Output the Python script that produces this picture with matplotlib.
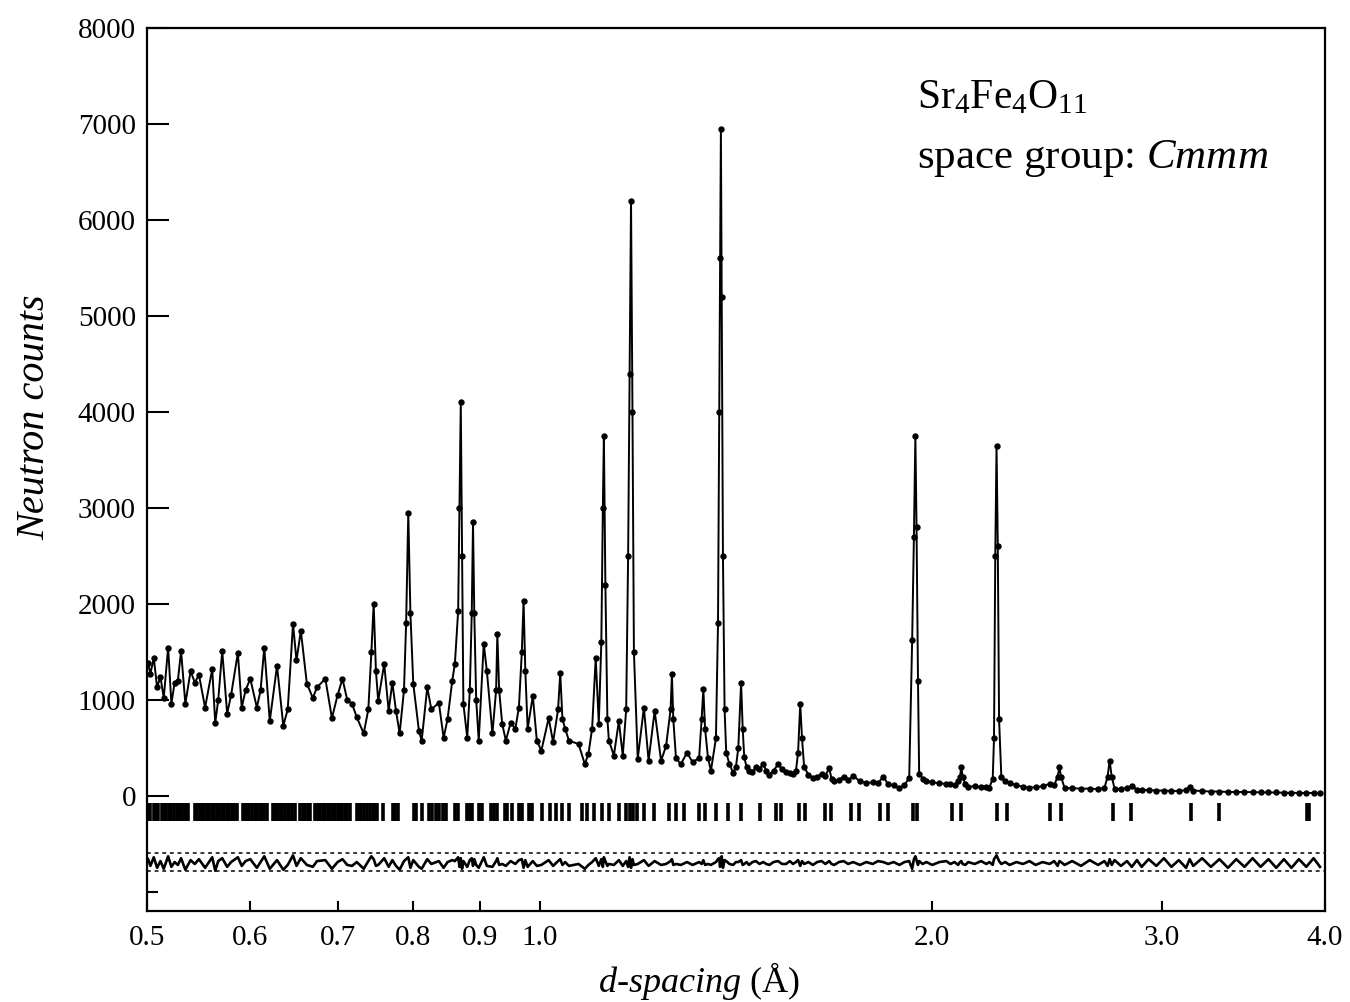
import numpy as np
import matplotlib
matplotlib.use('Agg')
import matplotlib.pyplot as plt
from matplotlib.ticker import FixedLocator, FixedFormatter, NullLocator

d_obs = [
    0.501, 0.503, 0.506, 0.509, 0.512, 0.515, 0.519, 0.522, 0.525, 0.528,
    0.531, 0.535, 0.540, 0.544, 0.548, 0.554, 0.561, 0.564, 0.567, 0.571,
    0.576, 0.580, 0.587, 0.591, 0.595, 0.600, 0.607, 0.611, 0.615, 0.621,
    0.629, 0.636, 0.641, 0.647, 0.651, 0.656, 0.663, 0.670, 0.675, 0.685,
    0.693, 0.700, 0.706, 0.712, 0.718, 0.724, 0.733, 0.739, 0.743, 0.746,
    0.749, 0.752, 0.760, 0.766, 0.771, 0.776, 0.781, 0.787, 0.790, 0.793,
    0.796, 0.800, 0.808, 0.812, 0.820, 0.826, 0.837, 0.844, 0.850, 0.857,
    0.861, 0.866, 0.868, 0.870, 0.872, 0.874, 0.880, 0.884, 0.887, 0.889,
    0.891, 0.894, 0.898, 0.906, 0.911, 0.920, 0.926, 0.928, 0.931, 0.936,
    0.942, 0.950, 0.958, 0.964, 0.969, 0.972, 0.975, 0.979, 0.988, 0.995,
    1.003, 1.016, 1.024, 1.033, 1.037, 1.041, 1.046, 1.053, 1.071, 1.083,
    1.090, 1.097, 1.104, 1.110, 1.115, 1.118, 1.120, 1.123, 1.127, 1.130,
    1.140, 1.150, 1.158, 1.165, 1.169, 1.172, 1.175, 1.178, 1.181, 1.189,
    1.202, 1.212, 1.225, 1.239, 1.250, 1.260, 1.263, 1.266, 1.272, 1.283,
    1.297, 1.310, 1.325, 1.331, 1.335, 1.339, 1.346, 1.353, 1.365, 1.370,
    1.373, 1.375, 1.377, 1.379, 1.382, 1.386, 1.390, 1.398, 1.407, 1.414,
    1.420, 1.427, 1.431, 1.435, 1.441, 1.447, 1.456, 1.465, 1.474, 1.484,
    1.492, 1.500, 1.511, 1.523, 1.534, 1.545, 1.555, 1.564, 1.572, 1.578,
    1.584, 1.589, 1.595, 1.607, 1.620, 1.632, 1.645, 1.656, 1.667, 1.674,
    1.682, 1.696, 1.710, 1.724, 1.739, 1.760, 1.780, 1.800, 1.817, 1.834,
    1.850, 1.868, 1.887, 1.904, 1.920, 1.930, 1.936, 1.941, 1.945, 1.950,
    1.954, 1.966, 1.979, 2.000, 2.025, 2.050, 2.065, 2.080, 2.093, 2.100,
    2.105, 2.110, 2.120, 2.131, 2.155, 2.180, 2.200, 2.212, 2.225, 2.230,
    2.235, 2.240, 2.245, 2.250, 2.259, 2.275, 2.292, 2.320, 2.347, 2.374,
    2.400, 2.430, 2.460, 2.480, 2.495, 2.503, 2.510, 2.526, 2.560, 2.600,
    2.640, 2.680, 2.710, 2.725, 2.735, 2.745, 2.759, 2.790, 2.820, 2.844,
    2.870, 2.894, 2.930, 2.970, 3.010, 3.050, 3.090, 3.130, 3.150, 3.170,
    3.220, 3.270, 3.320, 3.370, 3.420, 3.470, 3.520, 3.570, 3.620, 3.670,
    3.720, 3.770, 3.820, 3.870, 3.920, 3.965,
]
counts = [
    1380, 1270, 1440, 1130, 1240, 1020, 1545, 960, 1180, 1200,
    1510, 960, 1300, 1180, 1260, 920, 1320, 760, 1000, 1510,
    855, 1050, 1490, 920, 1100, 1220, 920, 1100, 1545, 780,
    1355, 730, 900, 1790, 1410, 1720, 1170, 1020, 1130, 1220,
    810, 1050, 1220, 1000, 960, 820, 650, 900, 1500, 2000,
    1300, 990, 1375, 885, 1180, 885, 650, 1100, 1800, 2950,
    1900, 1170, 680, 575, 1130, 900, 970, 605, 800, 1200,
    1375, 1930, 3000, 4100, 2500, 960, 605, 1100, 1900, 2850,
    1900, 1000, 575, 1585, 1300, 650, 1100, 1690, 1100, 750,
    575, 760, 700, 920, 1500, 2034, 1300, 700, 1040, 575,
    470, 810, 560, 900, 1280, 800, 700, 575, 540, 330,
    440, 700, 1440, 750, 1600, 3000, 3750, 2200, 800, 575,
    420, 780, 420, 900, 2500, 4400, 6200, 4000, 1500, 385,
    920, 365, 885, 365, 520, 900, 1270, 800, 395, 330,
    450, 350, 395, 800, 1116, 700, 395, 260, 600, 1800,
    4000, 5600, 6950, 5200, 2500, 900, 450, 330, 240, 300,
    500, 1180, 700, 400, 300, 260, 250, 300, 280, 330,
    260, 220, 260, 330, 280, 250, 240, 230, 260, 450,
    960, 600, 300, 220, 190, 200, 230, 210, 290, 180,
    150, 170, 200, 160, 210, 150, 135, 140, 130, 200,
    120, 110, 85, 110, 190, 1620, 2700, 3750, 2800, 1200,
    230, 180, 155, 140, 130, 125, 120, 110, 150, 200,
    300, 200, 120, 95, 100, 90, 95, 85, 180, 600,
    2500, 3650, 2600, 800, 200, 150, 135, 110, 95, 85,
    90, 100, 125, 110, 200, 300, 200, 80, 80, 75,
    75, 70, 80, 200, 365, 200, 75, 70, 80, 105,
    65, 60, 60, 55, 55, 50, 50, 60, 95, 55,
    50, 45, 45, 40, 40, 40, 38, 35, 35, 35,
    32, 32, 30, 30, 30, 30,
]
# observed minus calculated, same points
resid = [
    40, -30, 60, -50, 20, -60, 70, -40, 10, -20,
    50, -70, 30, -10, 40, -50, 60, -80, 20, 50,
    -40, 10, 60, -30, 20, 40, -50, 10, 70, -60,
    30, -70, -20, 80, -30, 50, -20, -40, 20, 30,
    -60, 10, 40, -20, -30, 10, -60, 20, 70, 40,
    -30, -20, 50, -40, 30, -30, -70, 20, 40, 60,
    -50, 30, -40, -60, 40, -10, 20, -50, 10, 30,
    20, 60, -40, 50, -60, 20, -40, 30, 50, -30,
    40, -20, -50, 60, -30, -40, 20, 50, -20, -10,
    -30, 20, -10, 30, 40, -50, 30, -40, 20, -30,
    -20, 30, -30, 20, 40, -20, 10, -30, -10, -60,
    -20, 10, 50, -30, 40, -40, 60, 20, -30, -10,
    -20, 30, -30, 20, -40, 60, -50, 40, -20, -10,
    30, -30, 20, -20, -10, 20, 40, -20, -10, -20,
    10, -20, 10, -10, 30, -20, -10, -20, 10, 40,
    50, -40, 60, 70, -50, 30, 20, -10, -20, 10,
    10, 30, -20, -10, 10, -20, 10, 20, -10, 10,
    -10, -20, 10, 20, -10, -10, 20, -10, 10, 30,
    -30, 20, -10, 10, -20, 10, 20, -10, 20, -10,
    -20, 10, 20, -10, 10, -20, 10, -10, 20, 10,
    -10, 10, -20, 10, 20, -60, 40, 70, 30, -20,
    20, -10, 10, -20, 10, 20, -10, 10, -20, 10,
    20, -10, -20, 10, -10, 20, -10, 10, -20, 40,
    60, 80, 50, 20, -10, 10, -20, 10, -10, 20,
    -20, 10, -10, 20, -30, 20, 10, -20, 20, -30,
    30, -20, 20, -30, 40, -20, 30, -30, 20, -40,
    30, -40, 40, -30, 50, -40, 30, -50, 40, -30,
    50, -40, 40, -50, 40, -40, 50, -40, 40, -50,
    40, -50, 40, -40, 50, -40,
]

# reflection positions (tick marks)
refl_d = [
    0.501, 0.503, 0.506, 0.508, 0.510, 0.513, 0.515, 0.517, 0.520, 0.522,
    0.524, 0.527, 0.529, 0.531, 0.534, 0.536, 0.538, 0.544, 0.546, 0.549,
    0.551, 0.553, 0.556, 0.558, 0.561, 0.563, 0.566, 0.568, 0.571, 0.573,
    0.576, 0.578, 0.581, 0.583, 0.586, 0.592, 0.594, 0.597, 0.599, 0.602,
    0.605, 0.607, 0.610, 0.612, 0.615, 0.618, 0.624, 0.627, 0.629, 0.632,
    0.635, 0.638, 0.641, 0.643, 0.646, 0.649, 0.655, 0.658, 0.661, 0.664,
    0.667, 0.673, 0.676, 0.679, 0.682, 0.685, 0.688, 0.691, 0.694, 0.697,
    0.700, 0.703, 0.706, 0.709, 0.712, 0.715, 0.724, 0.727, 0.730, 0.734,
    0.737, 0.741, 0.745, 0.748, 0.751, 0.758, 0.772, 0.775, 0.779, 0.801,
    0.804, 0.812, 0.823, 0.827, 0.833, 0.837, 0.843, 0.847, 0.861, 0.866,
    0.880, 0.884, 0.888, 0.899, 0.903, 0.918, 0.922, 0.928, 0.940, 0.944,
    0.953, 0.965, 0.969, 0.982, 0.986,
    1.005, 1.018, 1.030, 1.040, 1.053, 1.077, 1.088, 1.101, 1.117, 1.130,
    1.150, 1.165, 1.172, 1.180, 1.187, 1.203, 1.224, 1.256, 1.272, 1.291,
    1.325, 1.340, 1.366, 1.394, 1.427, 1.475, 1.519, 1.532, 1.580, 1.596,
    1.656, 1.671, 1.731, 1.756, 1.825, 1.851, 1.932, 1.948, 2.072, 2.105,
    2.240, 2.280, 2.460, 2.512, 2.749, 2.839, 3.156, 3.317, 3.878, 3.886,
]

x_ticks = [0.5, 0.6, 0.7, 0.8, 0.9, 1.0, 2.0, 3.0, 4.0]
x_labels = ['0.5', '0.6', '0.7', '0.8', '0.9', '1.0', '2.0', '3.0', '4.0']
y_ticks = [0, 1000, 2000, 3000, 4000, 5000, 6000, 7000, 8000]

plt.rcParams['font.family'] = ['Liberation Serif', 'DejaVu Serif']
plt.rcParams['mathtext.fontset'] = 'custom'
plt.rcParams['mathtext.rm'] = 'Liberation Serif'
plt.rcParams['mathtext.it'] = 'Liberation Serif:italic'

W, H = 1350, 1002
fig = plt.figure(figsize=(W / 100, H / 100), dpi=100)
ax = fig.add_axes([147 / W, 1 - 911 / H, (1325 - 147) / W, (911 - 28) / H])
ax.set_xscale('log')
ax.set_xlim(0.5, 4.0)
ax.set_ylim(-1200, 8000)

# data + fit
ax.plot(d_obs, counts, '-', color='k', lw=1.4)
ax.plot(d_obs, counts, 'o', color='k', ms=4.6, mew=0)

# reflection markers
ax.vlines(refl_d, -265, -75, color='k', lw=2.6)

# difference curve with its limits
diff_offset = -700
ax.plot(d_obs, np.array(resid) + diff_offset, color='k', lw=1.9)
for lev in (-600, -780):
    ax.axhline(lev, color='k', lw=1.1, ls=(0, (2.5, 2.5)))

ax.xaxis.set_major_locator(FixedLocator(x_ticks))
ax.xaxis.set_major_formatter(FixedFormatter(x_labels))
ax.xaxis.set_minor_locator(NullLocator())
ax.yaxis.set_major_locator(FixedLocator(y_ticks))
ax.yaxis.set_minor_locator(FixedLocator([-1000]))

ax.tick_params(axis='x', which='major', direction='in', length=7, width=1.5,
               labelsize=21, pad=10, top=False)
ax.tick_params(axis='y', which='major', direction='in', length=16, width=1.5,
               labelsize=21, pad=8, right=False)
ax.tick_params(axis='y', which='minor', direction='in', length=8, width=1.5,
               right=False)
for s in ax.spines.values():
    s.set_linewidth(1.6)

fig.text(35 / W, 1 - 417 / H, 'Neutron counts', rotation=90, style='italic',
         fontsize=29, ha='center', va='center')
fig.text(699 / W, 1 - 981 / H, r'$\mathit{d}$-$\mathit{spacing}$ (Å)',
         fontsize=26, ha='center', va='center')

fig.text(917 / W, 1 - 108 / H, r'Sr$_4$Fe$_4$O$_{11}$', fontsize=30,
         ha='left', va='baseline')
fig.text(917 / W, 1 - 168 / H, r'space group: $\mathit{Cmmm}$', fontsize=31,
         ha='left', va='baseline')

fig.savefig('out.png', dpi=100)
